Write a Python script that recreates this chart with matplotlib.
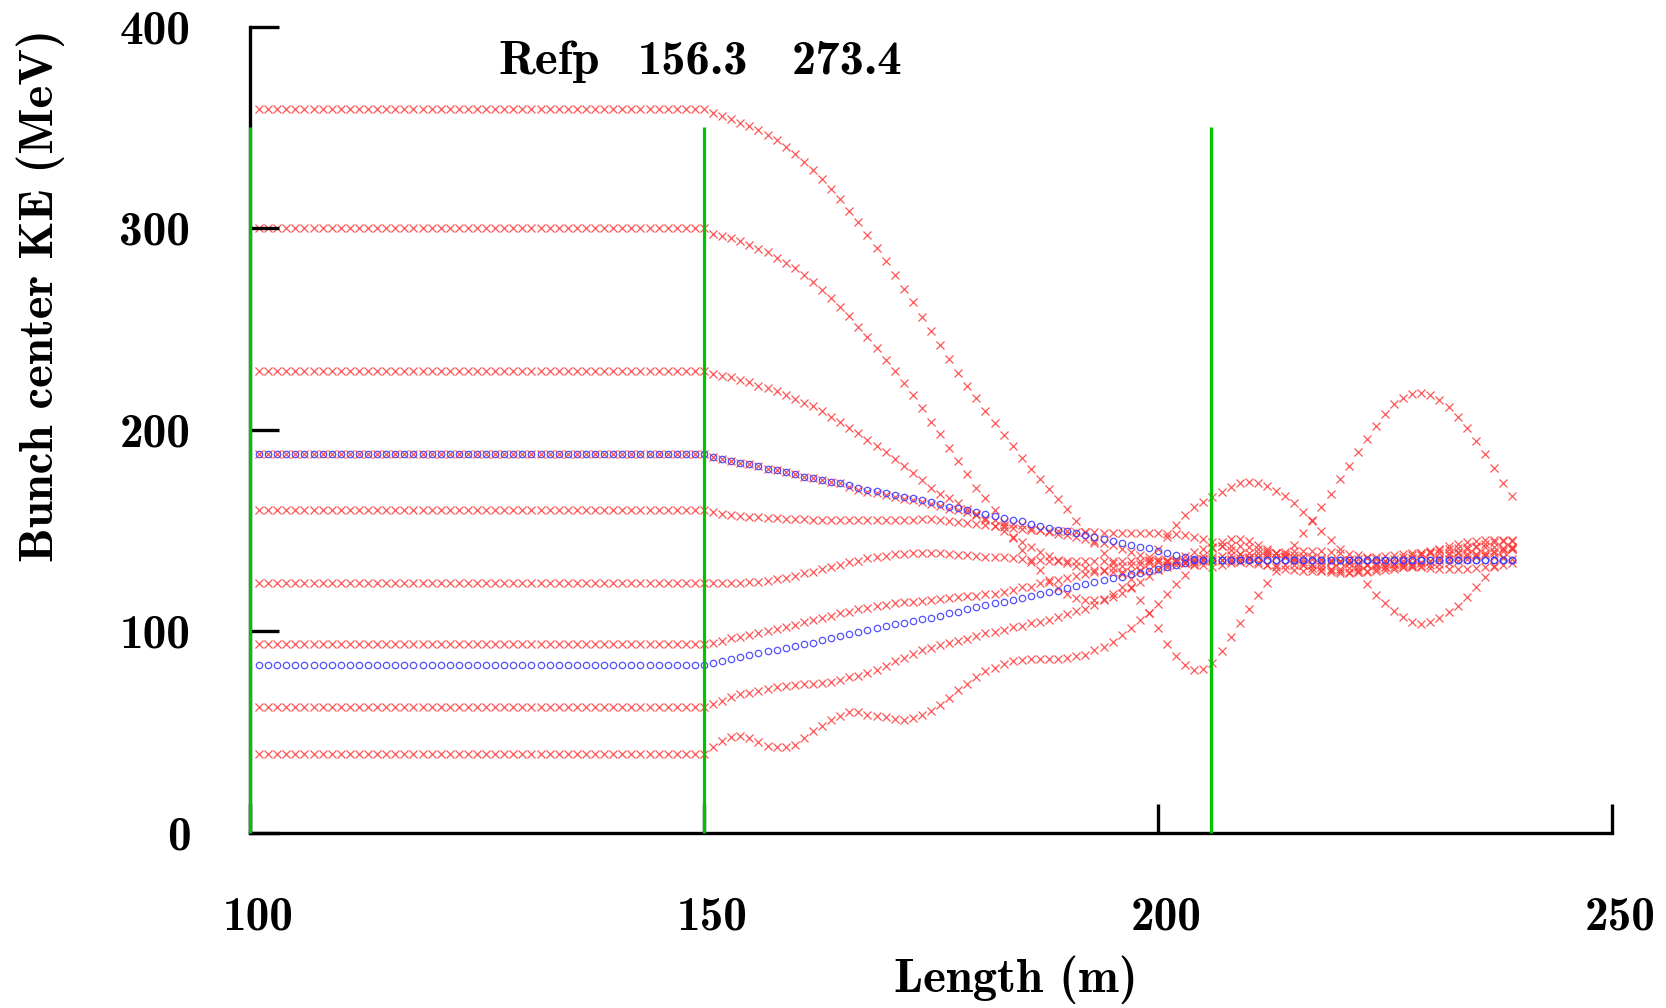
import numpy as np
import matplotlib
matplotlib.use("Agg")
import matplotlib.pyplot as plt
from matplotlib.transforms import ScaledTranslation

# ---------------- data ----------------
# positions along the channel (m); points every metre
x_flat = np.arange(101, 151)      # before the first rf section
x_curve = np.arange(151, 240)     # 151 ... 239

# initial (flat) kinetic energies of the tracked bunches (MeV)
red_start = [359.0, 300.0, 229.0, 188.0, 160.0, 124.1, 93.7, 62.6, 39.0]
blue_start = [188.0, 83.3]

red_A = [357.0, 355.7, 354.4, 352.3, 350.8, 349.0, 346.5, 343.7, 340.4, 337.0,
         332.9, 328.8, 324.3, 319.4, 314.4, 308.6, 303.2, 296.6, 290.3, 283.8,
         277.0, 270.1, 263.2, 256.0, 249.1, 242.0, 235.1, 228.3, 221.7, 215.6,
         209.3, 203.5, 197.4, 192.1, 186.1, 180.7, 175.6, 170.7, 165.7, 160.5,
         154.9, 149.4, 144.0, 138.7, 133.7, 128.3, 121.8, 115.5, 108.9, 101.5,
         94.0, 87.8, 83.3, 80.8, 81.2, 84.5, 90.4, 97.4, 104.3, 111.0,
         118.0, 124.0, 130.1, 136.7, 142.8, 148.9, 155.2, 161.5, 168.4, 175.4,
         182.0, 189.1, 195.4, 202.0, 208.1, 212.6, 215.9, 218.0, 218.5, 217.2,
         214.7, 211.4, 206.5, 201.0, 194.6, 187.8, 180.9, 173.7, 167.1]
red_B = [297.4, 296.1, 295.2, 293.6, 291.6, 289.6, 288.0, 285.3, 282.8, 280.4,
         277.0, 273.4, 269.6, 265.6, 261.0, 256.5, 251.1, 246.1, 240.7, 234.9,
         229.3, 223.0, 217.2, 210.6, 204.0, 197.7, 191.1, 184.5, 178.0, 171.3,
         166.0, 160.0, 153.0, 146.5, 140.3, 134.6, 130.3, 125.5, 121.5, 118.5,
         116.5, 115.5, 115.5, 116.0, 117.0, 119.0, 121.5, 124.5, 127.5, 130.5,
         133.0, 135.5, 137.5, 139.5, 141.0, 142.0, 142.5, 142.5, 142.5, 142.0,
         141.0, 140.0, 139.0, 137.5, 136.0, 134.5, 133.0, 132.0, 131.0, 130.0,
         129.5, 129.5, 129.5, 130.0, 130.5, 131.0, 132.0, 133.0, 134.0, 135.0,
         136.5, 138.0, 139.5, 141.0, 142.5, 143.5, 144.5, 145.0, 145.5]
red_C = [227.6, 226.8, 226.0, 224.6, 223.5, 221.8, 221.0, 219.4, 217.2, 215.2,
         213.4, 211.8, 209.3, 206.5, 204.0, 201.0, 198.2, 194.9, 191.9, 188.8,
         185.3, 182.2, 178.7, 175.1, 171.4, 168.4, 166.0, 163.5, 160.8, 158.0,
         155.3, 152.5, 149.8, 147.0, 144.5, 142.0, 139.5, 137.5, 135.5, 134.0,
         132.5, 131.5, 130.5, 130.0, 129.5, 129.5, 129.5, 130.0, 130.5, 131.0,
         132.0, 133.0, 134.0, 135.0, 136.0, 137.0, 137.5, 138.0, 138.5, 139.0,
         139.0, 139.0, 139.0, 138.5, 138.0, 137.5, 137.0, 136.5, 135.5, 135.0,
         134.0, 133.5, 133.0, 132.5, 132.0, 132.0, 132.0, 132.0, 132.5, 133.0,
         133.5, 134.0, 135.0, 136.0, 137.0, 138.0, 139.0, 140.0, 141.0]
red_R = [186.6, 185.5, 184.5, 183.7, 183.0, 182.0, 180.8, 180.0, 179.2, 178.0,
         176.7, 175.9, 175.1, 174.2, 173.4, 171.6, 170.4, 169.4, 168.6, 167.8,
         166.6, 165.8, 165.0, 164.1, 163.0, 162.0, 160.8, 160.0, 159.2, 158.3,
         156.5, 155.2, 154.4, 153.5, 152.6, 151.4, 150.3, 149.5, 148.5, 147.6,
         146.7, 145.9, 144.9, 143.8, 143.0, 141.0, 139.5, 138.0, 137.0, 136.0,
         135.0, 134.5, 134.5, 134.5, 135.0, 135.0, 135.5, 136.0, 136.5, 137.0,
         137.0, 137.0, 137.0, 137.0, 136.5, 136.0, 136.0, 135.5, 135.0, 134.5,
         134.0, 134.0, 133.5, 133.5, 133.5, 133.5, 134.0, 134.0, 134.5, 135.0,
         135.5, 136.0, 137.0, 137.5, 138.5, 139.0, 140.0, 141.0, 142.0]
red_D = [159.3, 158.5, 158.0, 157.5, 157.0, 156.7, 156.5, 156.2, 156.0, 155.8,
         155.7, 155.5, 155.5, 155.3, 155.2, 155.2, 155.2, 155.2, 155.2, 155.2,
         155.2, 155.2, 155.5, 155.7, 155.7, 155.2, 154.8, 154.5, 154.0, 153.5,
         153.0, 152.5, 152.0, 151.5, 151.0, 150.5, 150.2, 150.0, 149.8, 149.6,
         149.5, 149.3, 149.2, 149.0, 149.0, 149.0, 149.0, 148.8, 148.7, 148.6,
         148.5, 148.2, 147.7, 147.0, 145.8, 144.5, 142.5, 140.5, 138.5, 136.5,
         134.5, 133.0, 132.0, 131.0, 130.5, 130.0, 130.0, 130.0, 130.5, 131.0,
         131.5, 132.0, 133.0, 134.0, 135.0, 136.0, 137.0, 138.0, 139.0, 140.0,
         140.5, 141.0, 141.5, 142.0, 142.0, 142.0, 142.0, 141.5, 141.0]
red_E = [124.1, 124.1, 124.1, 124.1, 124.6, 124.6, 125.0, 125.8, 126.6, 127.6,
         128.8, 129.3, 130.8, 131.8, 132.9, 134.3, 135.1, 136.2, 137.1, 137.5,
         138.4, 138.4, 139.0, 139.0, 139.0, 138.7, 138.4, 137.9, 137.9, 137.5,
         137.1, 136.7, 136.7, 136.2, 135.8, 135.5, 135.2, 135.0, 135.0, 135.0,
         135.0, 135.0, 135.0, 135.0, 135.0, 135.0, 135.0, 135.0, 135.0, 135.0,
         135.2, 135.4, 135.6, 135.8, 136.0, 136.0, 135.5, 135.0, 134.5, 134.0,
         133.5, 133.0, 133.0, 133.0, 133.0, 133.0, 133.5, 134.0, 134.5, 135.0,
         135.5, 136.0, 136.5, 137.0, 137.5, 138.0, 138.5, 139.0, 139.0, 139.0,
         139.0, 139.0, 139.0, 138.5, 138.0, 137.5, 137.0, 136.5, 136.0]
red_F = [94.4, 95.4, 96.5, 97.4, 98.2, 99.4, 100.2, 101.2, 102.4, 103.2,
         104.9, 105.7, 106.5, 107.7, 109.0, 109.8, 111.0, 111.4, 112.6, 113.1,
         113.9, 114.7, 114.7, 115.2, 115.5, 116.0, 116.4, 117.2, 117.7, 117.7,
         118.5, 118.8, 119.7, 120.5, 121.8, 122.2, 123.8, 124.6, 125.5, 126.5,
         127.5, 128.5, 129.5, 130.5, 131.5, 132.3, 133.0, 133.5, 134.0, 134.3,
         134.5, 134.5, 134.0, 133.5, 133.0, 132.0, 133.0, 134.0, 135.0, 136.0,
         137.0, 138.0, 139.0, 139.5, 140.0, 140.0, 140.0, 140.0, 139.5, 139.0,
         138.5, 138.0, 137.0, 136.0, 135.0, 134.0, 133.0, 132.5, 132.0, 131.5,
         131.0, 131.0, 131.0, 131.0, 131.5, 132.0, 132.5, 133.0, 134.0]
red_G = [63.9, 65.6, 67.3, 68.8, 69.6, 70.6, 71.2, 72.2, 72.9, 73.4,
         73.7, 73.7, 74.2, 75.1, 75.9, 77.2, 78.1, 79.2, 80.9, 82.8,
         85.5, 86.6, 88.8, 90.7, 91.6, 93.3, 94.4, 95.4, 96.4, 97.7,
         99.0, 99.9, 100.7, 102.4, 102.7, 104.1, 104.9, 105.7, 107.1, 108.7,
         109.9, 111.0, 113.0, 115.5, 118.5, 122.0, 126.0, 130.5, 135.5, 141.0,
         147.0, 153.0, 158.0, 161.5, 164.3, 166.8, 169.3, 171.8, 173.6, 174.3,
         173.4, 172.1, 169.8, 167.1, 163.8, 159.4, 154.9, 149.9, 145.3, 140.7,
         135.4, 130.4, 123.5, 118.0, 113.9, 110.3, 107.3, 104.8, 103.6, 104.8,
         106.5, 109.4, 112.6, 117.2, 122.2, 127.1, 132.1, 137.0, 141.2]
red_H = [42.6, 45.5, 47.6, 48.3, 47.1, 45.0, 43.3, 42.5, 42.5, 43.8,
         47.1, 50.4, 53.3, 56.2, 58.2, 60.1, 60.1, 58.7, 57.9, 57.4,
         56.6, 56.2, 57.1, 58.4, 60.7, 63.7, 67.0, 70.7, 73.9, 77.2,
         80.2, 81.8, 83.8, 85.1, 85.9, 86.3, 86.3, 86.3, 86.3, 86.8,
         87.6, 88.4, 91.0, 92.5, 95.0, 98.0, 101.5, 105.5, 109.0, 113.5,
         118.5, 123.5, 128.0, 133.0, 137.5, 141.5, 144.5, 146.0, 146.0, 145.0,
         143.0, 141.0, 139.0, 137.0, 135.0, 133.0, 131.5, 130.5, 129.5, 129.0,
         129.0, 129.5, 130.0, 131.0, 132.0, 133.5, 135.0, 136.5, 138.0, 139.5,
         141.0, 142.5, 143.5, 144.5, 145.0, 145.5, 145.5, 145.5, 145.0]

blue_ref = 135.4   # energy the two reference bunches settle at
blue_U = [186.6, 185.5, 184.5, 183.7, 183.0, 182.0, 180.8, 180.0, 179.2, 178.0,
          176.7, 175.9, 175.1, 174.2, 173.4, 172.6, 171.4, 170.4, 169.6, 168.8,
          167.6, 166.8, 166.0, 165.1, 164.0, 163.0, 161.8, 161.0, 160.2, 159.3,
          158.5, 157.2, 156.4, 155.5, 154.6, 153.4, 152.3, 151.5, 150.5, 149.6,
          148.7, 147.9, 146.9, 145.8, 145.0, 144.0, 142.8, 142.0, 141.2, 140.0,
          139.0, 137.9, 137.0, 135.8, 135.4] + [blue_ref] * 34
blue_L = [84.1, 85.3, 86.3, 87.4, 88.3, 89.4, 90.4, 90.8, 91.6, 92.9,
          94.0, 94.5, 95.7, 96.5, 97.7, 98.7, 99.8, 100.7, 101.8, 102.7,
          103.6, 104.3, 105.3, 106.0, 106.9, 107.9, 108.9, 109.8, 110.9, 111.9,
          112.9, 113.9, 114.4, 115.5, 116.6, 117.5, 118.6, 119.7, 120.2, 121.3,
          122.3, 123.3, 124.3, 125.5, 126.3, 127.1, 128.4, 129.1, 129.9, 130.8,
          131.8, 132.9, 134.1, 135.4] + [blue_ref] * 35

red_curves = [red_A, red_B, red_C, red_R, red_D, red_E, red_F, red_G, red_H]
blue_curves = [blue_U, blue_L]

# rf section boundaries (m) and the top of the marker lines (MeV)
green_x = [100.0, 150.0, 205.8]
green_top = 350.0

title_words = ["Refp", "156.3", "273.4"]
title_xpos = [127.3, 142.7, 159.6]
title_y = 376.7

x_ticks = [100, 150, 200, 250]
y_ticks = [0, 100, 200, 300, 400]

# ---------------- plot ----------------
plt.rcParams["font.family"] = ["cmb10", "DejaVu Sans"]
plt.rcParams["axes.unicode_minus"] = False

fig = plt.figure(figsize=(16.66, 10.08), dpi=100)
ax = fig.add_axes([0.15006, 0.17361, 0.81753, 0.79990])
ax.set_axisbelow(False)   # tick marks drawn over the markers

x_all = np.concatenate([x_flat, x_curve])
for start, curve in zip(red_start, red_curves):
    y = np.concatenate([np.full(len(x_flat), start), np.asarray(curve)])
    ax.plot(x_all, y, ls="none", marker="x", ms=6.3, mew=0.9,
            color=(1.0, 0.22, 0.22), alpha=0.85, zorder=2.0)
for start, curve in zip(blue_start, blue_curves):
    y = np.concatenate([np.full(len(x_flat), start), np.asarray(curve)])
    ax.plot(x_all, y, ls="none", marker="o", ms=4.6, mew=0.9,
            mfc="none", mec=(0.25, 0.25, 1.0), alpha=0.9, zorder=2.1)

ax.vlines(green_x, 0, green_top, colors="#00c400", lw=2.3, zorder=6,
          clip_on=False)

for w, xp in zip(title_words, title_xpos):
    ax.text(xp, title_y, w, ha="left", va="baseline", fontsize=35)

ax.set_xlim(100, 250)
ax.set_ylim(0, 400)
ax.set_xticks(x_ticks)
ax.set_yticks(y_ticks)
ax.set_xticklabels([str(t) for t in x_ticks])
ax.set_yticklabels([str(t) for t in y_ticks])

for s in ["top", "right"]:
    ax.spines[s].set_visible(False)
for s in ["left", "bottom"]:
    ax.spines[s].set_linewidth(2.4)

ax.tick_params(axis="both", direction="in", length=21, width=2.4,
               labelsize=34, top=False, right=False)
ax.tick_params(axis="y", pad=43)
ax.tick_params(axis="x", pad=46)

# x tick labels sit slightly right of their ticks in the original
shift = ScaledTranslation(0.08, 0, fig.dpi_scale_trans)
for lab in ax.get_xticklabels():
    lab.set_transform(lab.get_transform() + shift)

ax.set_ylabel("Bunch center KE (MeV)", fontsize=35)
ax.yaxis.set_label_coords(-0.1535, 0.667)
ax.yaxis.label.set_va("center")
ax.set_xlabel("Length (m)", fontsize=35)
ax.xaxis.set_label_coords(0.5624, -0.1823)
ax.xaxis.label.set_va("center")

fig.savefig("out.png", dpi=100)
